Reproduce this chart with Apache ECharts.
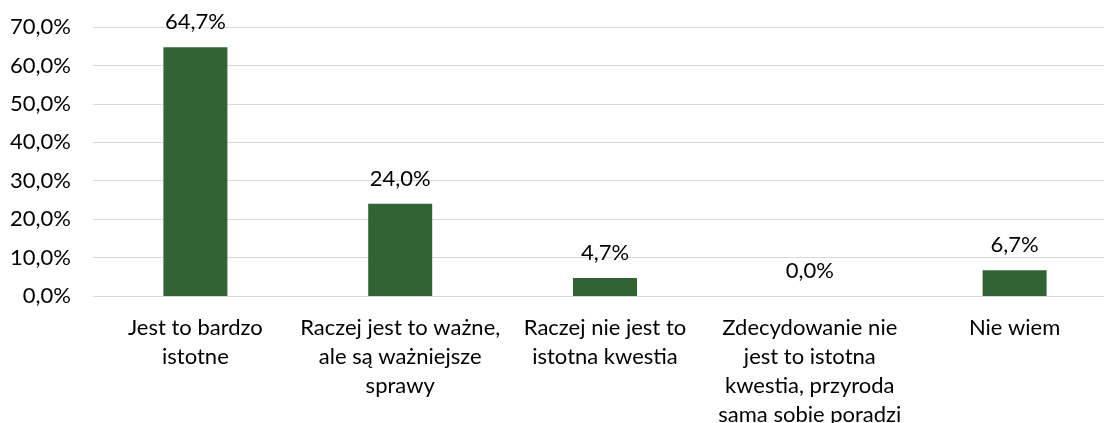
<!DOCTYPE html>
<html>
<head>
<meta charset="utf-8">
<script src="https://cdn.jsdelivr.net/npm/echarts@6/dist/echarts.min.js"></script>
<style>
  html, body { margin: 0; padding: 0; background: #fff; }
  #chart { width: 1104px; height: 423px; }
</style>
</head>
<body>
<div id="chart"></div>
<script>
const categories = [
  'Jest to bardzo\nistotne',
  'Raczej jest to ważne,\nale są ważniejsze\nsprawy',
  'Raczej nie jest to\nistotna kwestia',
  'Zdecydowanie nie\njest to istotna\nkwestia, przyroda\nsama sobie poradzi',
  'Nie wiem'
];
const values = [64.7, 24.0, 4.7, 0.0, 6.7];

const fmt = v => v.toFixed(1).replace('.', ',') + '%';
const font = 'Lato, "Open Sans", sans-serif';

const chart = echarts.init(document.getElementById('chart'));
chart.setOption({
  animation: false,
  grid: {
    left: 93, top: 27, width: 1024, height: 269,
    containLabel: false, outerBoundsMode: 'none'
  },
  xAxis: {
    type: 'category',
    data: categories,
    axisLine: { show: false },
    axisTick: { show: false },
    axisLabel: {
      interval: 0,
      margin: 17,
      color: '#000',
      fontSize: 22,
      fontFamily: font,
      lineHeight: 29,
      align: 'center'
    }
  },
  yAxis: {
    type: 'value',
    min: 0,
    max: 70,
    interval: 10,
    axisLine: { show: false },
    axisTick: { show: false },
    splitLine: { lineStyle: { color: '#d9d9d9', width: 1 } },
    axisLabel: {
      margin: 22,
      color: '#000',
      fontSize: 22,
      fontFamily: font,
      formatter: v => fmt(v)
    }
  },
  series: [{
    type: 'bar',
    data: values,
    barWidth: 64,
    itemStyle: { color: '#316334' },
    label: {
      show: true,
      position: 'top',
      distance: 14,
      color: '#000',
      fontSize: 22,
      fontFamily: font,
      formatter: p => fmt(p.value)
    }
  }]
});
</script>
</body>
</html>
